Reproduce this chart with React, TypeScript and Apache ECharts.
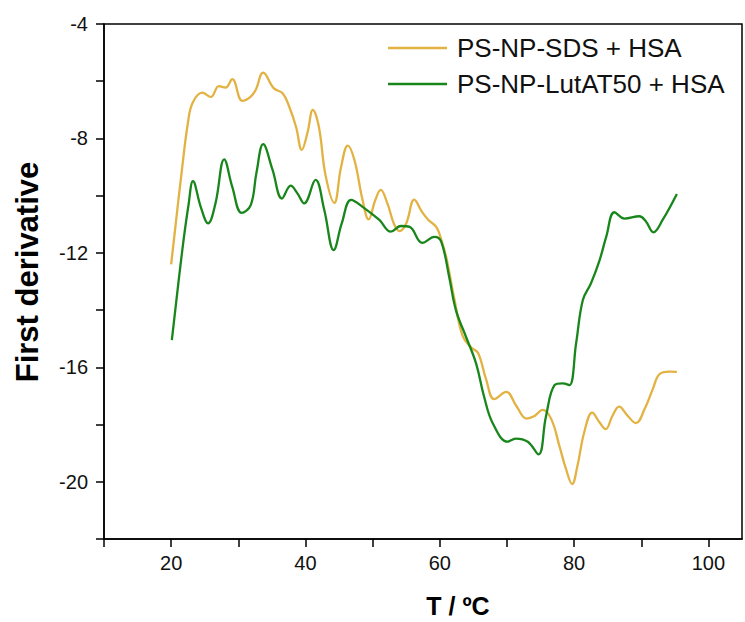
import React, { useEffect, useRef } from "react";
import * as echarts from "echarts";

// PS-NP-SDS + HSA
const sdsT = [20.0, 21.65, 22.5, 23.2, 24.65, 25.9, 27.1, 28.1, 29.1, 30.6, 31.85, 32.6, 33.7, 35.3, 36.6, 37.6, 38.6, 39.45, 40.3, 41.1, 42.0, 43.0, 44.3, 45.3, 46.3, 47.3, 48.5, 49.4, 50.4, 51.2, 52.2, 53.2, 54.0, 55.0, 56.2, 57.3, 58.3, 59.5, 60.3, 61.0, 62.2, 63.4, 64.7, 65.7, 66.9, 68.1, 69.9, 71.4, 72.9, 74.1, 75.3, 76.6, 77.8, 78.8, 79.7, 80.5, 81.5, 82.7, 83.8, 84.7, 85.7, 86.7, 88.0, 89.2, 90.5, 91.7, 92.7, 94.2, 95.3];
const sdsY = [-12.4, -9.0, -7.45, -6.75, -6.4, -6.55, -6.17, -6.22, -5.93, -6.69, -6.54, -6.3, -5.7, -6.25, -6.42, -6.9, -7.6, -8.4, -7.8, -7.0, -7.6, -9.3, -10.25, -9.0, -8.25, -8.76, -10.15, -10.83, -10.15, -9.8, -10.27, -11.0, -11.24, -10.97, -10.14, -10.55, -10.85, -11.1, -11.6, -12.2, -13.65, -14.9, -15.31, -15.5, -16.42, -17.11, -16.86, -17.35, -17.79, -17.7, -17.49, -17.81, -18.74, -19.56, -20.08, -19.44, -18.28, -17.58, -17.93, -18.16, -17.7, -17.37, -17.7, -17.95, -17.46, -16.77, -16.24, -16.15, -16.16];

// PS-NP-LutAT50 + HSA
const lutT = [20.1, 21.66, 22.6, 23.25, 24.4, 25.5, 26.6, 27.9, 29.1, 30.5, 31.85, 32.7, 33.7, 35.1, 36.5, 37.8, 38.8, 39.8, 41.5, 42.8, 44.2, 45.4, 46.8, 48.5, 51.0, 52.7, 54.2, 55.5, 57.4, 59.2, 60.2, 61.4, 62.4, 63.9, 65.4, 66.6, 67.9, 70.1, 71.3, 73.1, 74.7, 75.8, 77.1, 78.3, 79.3, 80.3, 81.3, 82.5, 83.8, 84.8, 86.0, 87.5, 89.7, 90.7, 91.8, 93.2, 95.3];
const lutY = [-15.05, -11.9, -10.3, -9.49, -10.39, -10.97, -10.27, -8.73, -9.69, -10.6, -10.33, -9.2, -8.2, -9.1, -10.1, -9.65, -9.92, -10.27, -9.45, -10.5, -11.9, -10.97, -10.15, -10.39, -10.85, -11.26, -11.06, -11.09, -11.65, -11.44, -11.6, -12.84, -14.0, -14.93, -15.86, -17.03, -17.96, -18.6, -18.49, -18.6, -19.04, -17.73, -16.62, -16.56, -16.62, -15.16, -13.65, -13.07, -12.25, -11.42, -10.58, -10.8, -10.72, -10.9, -11.28, -10.84, -9.94];

const seriesNames = ["PS-NP-SDS + HSA", "PS-NP-LutAT50 + HSA"];
const xTicks = [10, 20, 30, 40, 50, 60, 70, 80, 90, 100];
const xLabels = [20, 40, 60, 80, 100];
const yTicks = [-22, -20, -18, -16, -14, -12, -10, -8, -6, -4];
const yLabels = [-20, -16, -12, -8, -4];
const xTitle = "T / ºC";
const yTitle = "First derivative";

const FONT = "Liberation Sans, Arial, sans-serif";
const YELLOW = "#E2B243";
const GREEN = "#19861C";

export default function App() {
  const ref = useRef<HTMLDivElement>(null);
  useEffect(() => {
    if (!ref.current) return;
    const chart = echarts.init(ref.current, undefined, { renderer: "svg" });
    const pair = (t: number[], y: number[]) => t.map((v, i) => [v, y[i]]);
    chart.setOption({
      animation: false,
      backgroundColor: "#fff",
      grid: {
        left: 104,
        right: 3,
        top: 24,
        bottom: 83,
        show: true,
        borderColor: "#000",
        borderWidth: 1.5,
        backgroundColor: "transparent",
      },
      legend: {
        orient: "vertical",
        left: 388,
        top: 35,
        padding: 0,
        icon: "rect",
        itemWidth: 59,
        itemHeight: 2.5,
        itemGap: 10,
        textStyle: { fontFamily: FONT, fontSize: 26, color: "#111", padding: [0, 0, 0, 5], lineHeight: 26 },
        data: seriesNames,
      },
      xAxis: {
        type: "value",
        min: 10,
        max: 105,
        interval: 10,
        axisLine: { lineStyle: { color: "#000", width: 1.5 } },
        axisTick: { show: true, length: 8, customValues: xTicks, lineStyle: { color: "#000", width: 1.5 } },
        axisLabel: { customValues: xLabels, margin: 14, fontFamily: FONT, fontSize: 20, color: "#111" },
        splitLine: { show: false },
      },
      yAxis: {
        type: "value",
        min: -22,
        max: -4,
        interval: 2,
        axisLine: { show: true, lineStyle: { color: "#000", width: 1.5 } },
        axisTick: { show: true, length: 8, customValues: yTicks, lineStyle: { color: "#000", width: 1.5 } },
        axisLabel: { customValues: yLabels, margin: 16, fontFamily: FONT, fontSize: 20, color: "#111" },
        splitLine: { show: false },
      },
      graphic: [
        {
          type: "text",
          x: 27,
          y: 272,
          rotation: Math.PI / 2,
          style: {
            text: yTitle,
            font: `bold 31px ${FONT}`,
            fill: "#000",
            textAlign: "center",
            textVerticalAlign: "middle",
          },
        },
        {
          type: "text",
          x: 458,
          y: 606,
          style: {
            text: xTitle,
            font: `bold 25px ${FONT}`,
            fill: "#000",
            textAlign: "center",
            textVerticalAlign: "middle",
          },
        },
      ],
      series: [
        {
          name: seriesNames[0],
          type: "line",
          data: pair(sdsT, sdsY),
          smooth: 0.4,
          symbol: "none",
          lineStyle: { color: YELLOW, width: 2.3 },
          itemStyle: { color: YELLOW },
        },
        {
          name: seriesNames[1],
          type: "line",
          data: pair(lutT, lutY),
          smooth: 0.4,
          symbol: "none",
          lineStyle: { color: GREEN, width: 2.3 },
          itemStyle: { color: GREEN },
        },
      ],
    });
    return () => chart.dispose();
  }, []);
  return <div ref={ref} style={{ position: "fixed", left: 0, top: 0, width: 745, height: 622 }} />;
}
